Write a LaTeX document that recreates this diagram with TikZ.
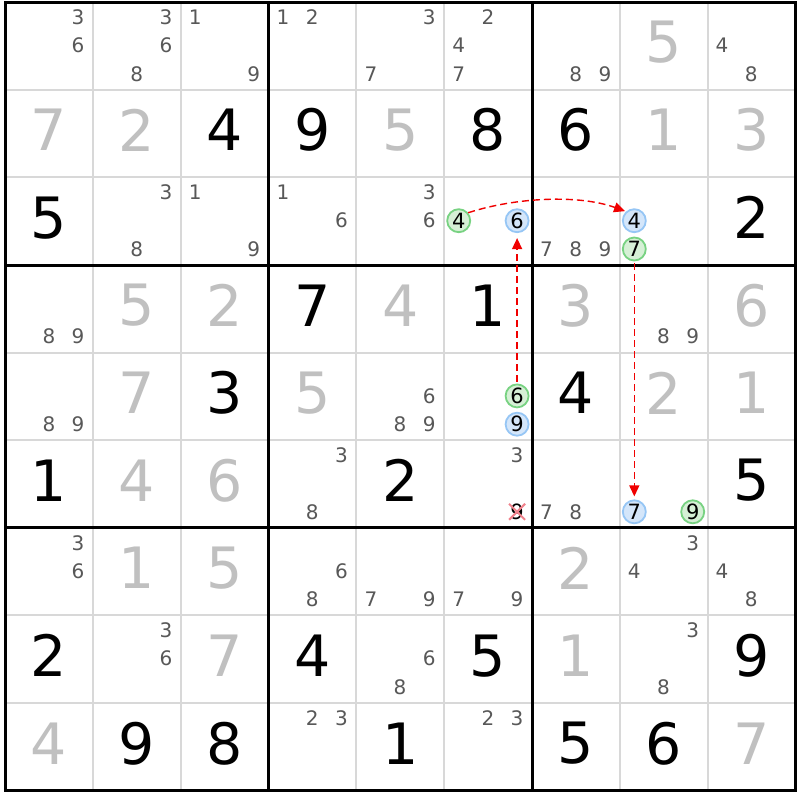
\documentclass[tikz,border=0pt]{standalone}
\usepackage{fontspec}
\setmainfont{DejaVu Sans}
\usetikzlibrary{arrows.meta}
\definecolor{candc}{RGB}{88,88,88}
\definecolor{givc}{RGB}{192,192,192}
\definecolor{thinc}{RGB}{216,216,216}
\definecolor{gfill}{RGB}{214,240,214}
\definecolor{gline}{RGB}{120,210,130}
\definecolor{bfill}{RGB}{212,230,250}
\definecolor{bline}{RGB}{150,198,245}
\definecolor{linkc}{RGB}{240,0,0}
\definecolor{crossc}{RGB}{240,130,140}
\newcommand\cand[4]{%
  \pgfmathsetmacro\cx{5.2+(#2-1)*87.8+14.5+mod(#3-1,3)*29.2}%
  \pgfmathsetmacro\cy{-(2.2+(#1-1)*87.6+15+floor((#3-1)/3)*28.3)}%
  \node[#4] (k#1#2#3) at (\cx,\cy) {#3};}
\newcommand\bigdig[4]{%
  \pgfmathsetmacro\cx{5.2+(#2-0.5)*87.8}%
  \pgfmathsetmacro\cy{-(2.2+(#1-0.5)*87.6)+3.5}%
  \node[#4] (v#1#2) at (\cx,\cy) {#3};}
\tikzset{
  cs/.style={text=candc, font=\fontsize{20}{20}\selectfont, inner sep=0pt},
  ccirc/.style={circle, line width=1.8pt, minimum size=23pt, inner sep=0pt, text=black, font=\fontsize{21}{21}\selectfont},
  gc/.style={ccirc, draw=gline, fill=gfill},
  bc/.style={ccirc, draw=bline, fill=bfill},
  xc/.style={text=black, font=\fontsize{21}{21}\selectfont, inner sep=0pt},
  giv/.style={text=givc, font=\fontsize{57}{57}\selectfont, inner sep=0pt},
  sol/.style={text=black, font=\fontsize{57}{57}\selectfont, inner sep=0pt},
  thinl/.style={draw=thinc, line width=2pt},
  thickl/.style={draw=black, line width=3pt},
  link/.style={draw=linkc, line width=1.4pt, dash pattern=on 7pt off 4pt, -{Triangle[length=11pt,width=10pt]}},
  crossl/.style={draw=crossc, line width=2pt}
}
\begin{document}
\begin{tikzpicture}[x=1pt,y=1pt]
\useasboundingbox (0,0) rectangle (800,-800);
\fill[white] (0,0) rectangle (800,-800);
% thin grid
\foreach \i in {1,2,4,5,7,8} {
  \draw[thinl] (5.2+\i*87.8,-2.2) -- (5.2+\i*87.8,-790.6);
  \draw[thinl] (5.2,-2.2-\i*87.6) -- (795.4,-2.2-\i*87.6);
}
% thick grid
\foreach \i in {3,6} {
  \draw[thickl] (5.2+\i*87.8,-2.2) -- (5.2+\i*87.8,-790.6);
  \draw[thickl] (5.2,-2.2-\i*87.6) -- (795.4,-2.2-\i*87.6);
}
\draw[thickl] (5.2,-2.2) rectangle (795.4,-790.6);
% given digits (gray)
\foreach \r/\c/\d in {1/8/5,2/1/7,2/2/2,2/5/5,2/8/1,2/9/3,4/2/5,4/3/2,4/5/4,4/7/3,4/9/6,
  5/2/7,5/4/5,5/8/2,5/9/1,6/2/4,6/3/6,7/2/1,7/3/5,7/7/2,8/3/7,8/7/1,9/1/4,9/9/7}
  {\bigdig{\r}{\c}{\d}{giv}}
% solved digits (black)
\foreach \r/\c/\d in {2/3/4,2/4/9,2/6/8,2/7/6,3/1/5,3/9/2,4/4/7,4/6/1,5/3/3,5/7/4,
  6/1/1,6/5/2,6/9/5,8/1/2,8/4/4,8/6/5,8/9/9,9/2/9,9/3/8,9/5/1,9/7/5,9/8/6}
  {\bigdig{\r}{\c}{\d}{sol}}
% candidates
\foreach \r/\c/\d in {1/1/3,1/1/6,1/2/3,1/2/6,1/2/8,1/3/1,1/3/9,1/4/1,1/4/2,1/5/3,1/5/7,
  1/6/2,1/6/4,1/6/7,1/7/8,1/7/9,1/9/4,1/9/8,
  3/2/3,3/2/8,3/3/1,3/3/9,3/4/1,3/4/6,3/5/3,3/5/6,3/7/7,3/7/8,3/7/9,
  4/1/8,4/1/9,4/8/8,4/8/9,5/1/8,5/1/9,5/5/6,5/5/8,5/5/9,
  6/4/3,6/4/8,6/6/3,6/7/7,6/7/8,
  7/1/3,7/1/6,7/4/6,7/4/8,7/5/7,7/5/9,7/6/7,7/6/9,7/8/3,7/8/4,7/9/4,7/9/8,
  8/2/3,8/2/6,8/5/6,8/5/8,8/8/3,8/8/8,9/4/2,9/4/3,9/6/2,9/6/3}
  {\cand{\r}{\c}{\d}{cs}}
% highlighted candidates
\cand{3}{6}{4}{gc}
\cand{3}{6}{6}{bc}
\cand{3}{8}{4}{bc}
\cand{3}{8}{7}{gc}
\cand{5}{6}{6}{gc}
\cand{5}{6}{9}{bc}
\cand{6}{8}{7}{bc}
\cand{6}{8}{9}{gc}
\cand{6}{6}{9}{xc}
% eliminated candidate
\draw[crossl] ([shift={(-8,-8)}]k669.center) -- ([shift={(8,8)}]k669.center);
\draw[crossl] ([shift={(-8,8)}]k669.center) -- ([shift={(8,-8)}]k669.center);
% links
\draw[link, shorten >=5pt, shorten <=2pt] (k566) -- (k366);
\draw[link, shorten >=3pt, shorten <=2pt] (k387) -- (k687);
\draw[link, shorten >=1pt] (k364.40) .. controls +(18:50) and +(160:50) .. (k384.132);
\end{tikzpicture}
\end{document}
